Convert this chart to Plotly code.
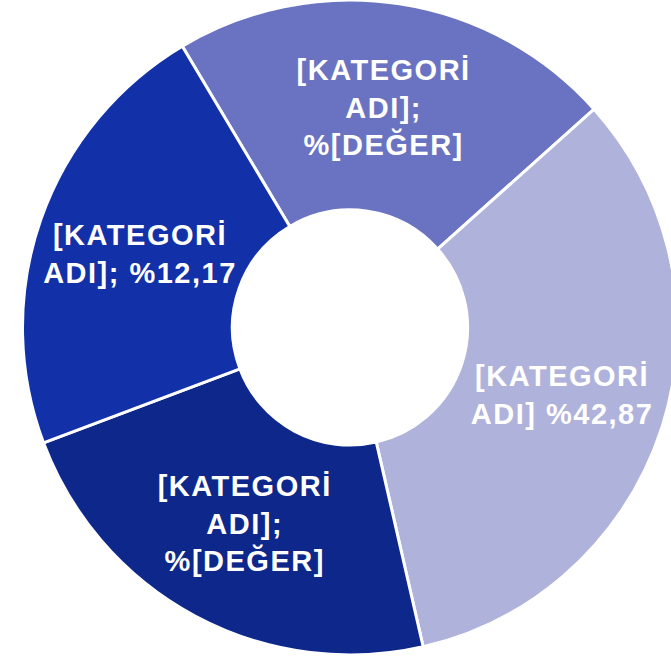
import plotly.graph_objects as go

categories = ["Üst", "Sağ", "Alt", "Sol"]
values = [21.94, 33.03, 22.86, 22.17]
label_texts = [
    "[KATEGORİ<br>ADI];<br>%[DEĞER]",
    "[KATEGORİ<br>ADI] %42,87",
    "[KATEGORİ<br>ADI];<br>%[DEĞER]",
    "[KATEGORİ<br>ADI]; %12,17",
]
colors = ["#6A73C1", "#AFB2DA", "#0E278B", "#1230A8"]

fig = go.Figure(
    go.Pie(
        labels=categories,
        values=values,
        text=label_texts,
        textinfo="text",
        textposition="inside",
        insidetextorientation="horizontal",
        sort=False,
        direction="clockwise",
        rotation=-30.8,
        hole=0.359,
        marker=dict(colors=colors, line=dict(color="white", width=3)),
        textfont=dict(family="Liberation Sans, Arial, sans-serif", size=29,
                      color="white", weight="bold"),
        hoverinfo="label+percent",
        showlegend=False,
    )
)

fig.update_layout(
    width=700,
    height=657,
    autosize=False,
    margin=dict(l=0, r=0, t=0, b=2, pad=0),
    paper_bgcolor="white",
    plot_bgcolor="white",
    uniformtext=dict(minsize=29, mode="show"),
)

fig.write_html(
    "out.html",
    config={"displayModeBar": False},
    post_script=(
        "document.body.style.margin='0';"
        "document.body.style.overflow='hidden';"
        "document.documentElement.style.overflow='hidden';"
        "document.querySelectorAll('.slicetext').forEach(function(t){"
        "t.style.letterSpacing='1.5px';});"
    ),
)
